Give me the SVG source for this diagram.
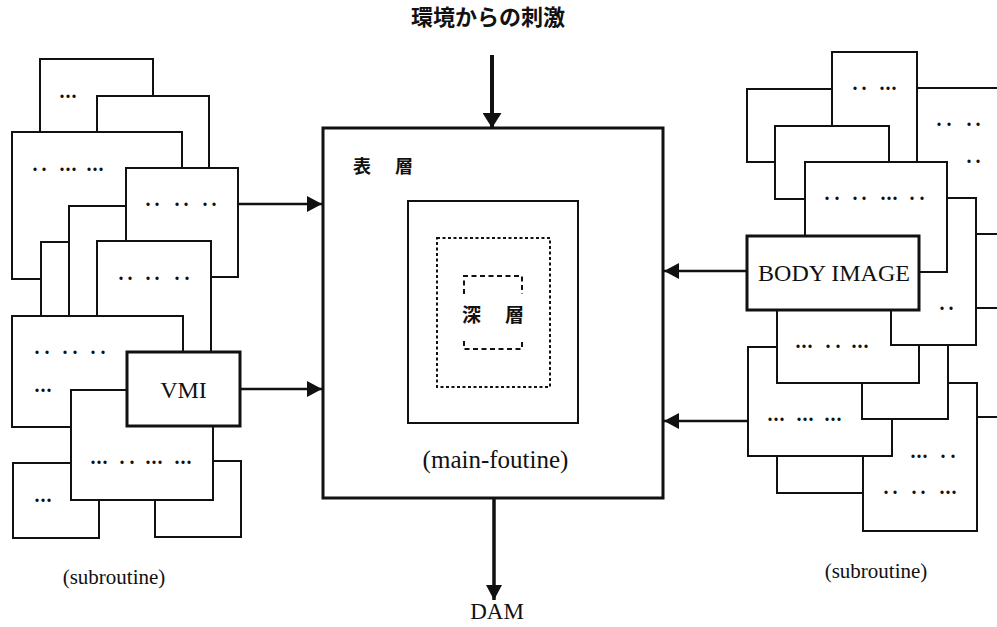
<svg xmlns="http://www.w3.org/2000/svg" width="997" height="627" viewBox="0 0 997 627">
<style>
.b{fill:#fff;stroke:#111;stroke-width:2}
.bt{fill:#fff;stroke:#111;stroke-width:3}
.d{font-family:"Liberation Serif",serif;font-weight:bold;font-size:20px;fill:#111}
.lbl{font-family:"Liberation Serif",serif;fill:#111}
.jp{font-family:"Noto Sans CJK JP","Noto Sans CJK SC",sans-serif;font-weight:bold;fill:#111}
.cn{fill:none;stroke:#111}
</style>
<defs>
<marker id="ah" viewBox="0 0 15 16" refX="15" refY="8" markerWidth="15" markerHeight="16" markerUnits="userSpaceOnUse" orient="auto"><path d="M0,0 L15,8 L0,16 Z" fill="#111"/></marker>
<marker id="ahb" viewBox="0 0 15 19" refX="15" refY="9.5" markerWidth="15" markerHeight="19" markerUnits="userSpaceOnUse" orient="auto"><path d="M0,0 L15,9.5 L0,19 Z" fill="#111"/></marker>
</defs>
<rect width="997" height="627" fill="#fff"/>

<text class="jp" x="411" y="25" font-size="22">環境からの刺激</text>

<g id="left-stack">
<g id="L-A"><rect class="b" x="40" y="59" width="113" height="141"/><text class="d" x="59.5 65.5 71.5" y="98.4">...</text></g>
<g id="L-B"><rect class="b" x="97" y="96" width="112" height="124"/></g>
<g id="L-C"><rect class="b" x="12" y="132" width="170" height="147"/><text class="d" x="32.5 41.5 50 59.5 65.5 71.5 80 86.5 92.5 98.5" y="171.4">.. ... ...</text></g>
<g id="L-F"><rect class="b" x="41" y="242" width="100" height="90"/></g>
<g id="L-E"><rect class="b" x="69" y="206" width="100" height="124"/></g>
<g id="L-D"><rect class="b" x="126" y="168" width="112" height="109"/><text class="d" x="145.5 154.5 165 174.5 183.5 194 202.5 211.5" y="206.4">.. .. ..</text></g>
<g id="L-G"><rect class="b" x="97" y="241" width="114" height="159"/><text class="d" x="118.5 127.5 138 145.5 154.5 166 174.5 184.5" y="280.4">.. .. ..</text></g>
<g id="L-H"><rect class="b" x="12" y="316" width="171" height="111"/><text class="d" x="34.5 44.5 55 62.5 72.5 83 90.5 100.5" y="354.4">.. .. ..</text><text class="d" x="34.5 40.5 46.5" y="392.4">...</text></g>
<g id="L-J"><rect class="b" x="13" y="463" width="86" height="75"/><text class="d" x="34.5 40.5 46.5" y="502.4">...</text></g>
<g id="L-K"><rect class="b" x="155" y="461" width="86" height="76"/></g>
<g id="L-I"><rect class="b" x="71" y="390" width="142" height="110"/><text class="d" x="90.5 96.5 102.5 112 119.5 129.5 138 145.5 151.5 157.5 166 174.5 180.5 186.5" y="464.4">... .. ... ...</text></g>
<g id="VMI"><rect class="bt" x="127" y="352" width="113" height="74"/><text class="lbl" x="183.5" y="398" font-size="24" text-anchor="middle">VMI</text></g>
<text class="lbl" x="114" y="584" font-size="21" text-anchor="middle">(subroutine)</text>
</g>

<g id="right-stack">
<g id="R-2"><rect class="b" x="900" y="88" width="200" height="146"/><text class="d" x="936.5 946.5 957 966.5 975.5" y="126.4">.. ..</text><text class="d" x="966.5 975.5" y="163.4">..</text></g>
<g id="R-3"><rect class="b" x="747" y="89" width="103" height="73"/></g>
<g id="R-1"><rect class="b" x="832" y="52" width="85" height="128"/><text class="d" x="852.5 861.5 870 879.5 885.5 891.5" y="90.4">.. ...</text></g>
<g id="R-4"><rect class="b" x="775" y="126" width="114" height="73"/></g>
<g id="R-7"><rect class="b" x="930" y="308" width="170" height="109"/></g>
<g id="R-12"><rect class="b" x="777" y="430" width="123" height="63"/></g>
<g id="R-11"><rect class="b" x="863" y="383" width="114" height="148"/><text class="d" x="910.5 916.5 922.5 932 940.5 950.5" y="458.4">... ..</text><text class="d" x="883.5 892.5 903 911.5 920.5 930 939.5 945.5 951.5" y="494.4">.. .. ...</text></g>
<g id="R-9"><rect class="b" x="748" y="347" width="144" height="109"/><text class="d" x="767.5 773.5 779.5 789 796.5 802.5 808.5 817 824.5 830.5 836.5" y="421.4">... ... ...</text></g>
<g id="R-10"><rect class="b" x="862" y="330" width="86" height="89"/></g>
<g id="R-8"><rect class="b" x="777" y="290" width="142" height="93"/><text class="d" x="795.5 801.5 807.5 817 825.5 835.5 845 851.5 857.5 863.5" y="348.4">... .. ...</text></g>
<g id="R-6"><rect class="b" x="891" y="198" width="85" height="147"/><text class="d" x="939.5 948.5" y="310.4">..</text></g>
<g id="R-5"><rect class="b" x="805" y="162" width="142" height="110"/><text class="d" x="824.5 834.5 845 852.5 861.5 871 880.5 886.5 892.5 901 909.5 919.5" y="200.4">.. .. ... ..</text></g>
<g id="BODY-IMAGE"><rect class="bt" x="747" y="236" width="172" height="74"/><text class="lbl" x="834" y="281" font-size="24" text-anchor="middle">BODY IMAGE</text></g>
<text class="lbl" x="876" y="578" font-size="21" text-anchor="middle">(subroutine)</text>
</g>

<g id="main-routine">
<rect class="bt" x="323" y="128" width="340" height="370"/>
<text class="jp" x="353 371 395" y="173" font-size="18">表 層</text>
<rect class="b" x="408" y="201" width="170" height="222"/>
<rect fill="none" stroke="#111" stroke-width="2" stroke-dasharray="3 2.5" x="437" y="238" width="113" height="149"/>
<path fill="none" stroke="#111" stroke-width="2" stroke-dasharray="5 3.5" d="M464,294 V276 H522 V294 M464,341 V349 H522 V341"/>
<text class="jp" x="462 484 505" y="322" font-size="19">深 層</text>
<text class="lbl" x="495.5" y="468" font-size="25" text-anchor="middle">(main-foutine)</text>
</g>

<g id="connectors">
<path class="cn" stroke-width="4" d="M492,55 V128" marker-end="url(#ahb)"/>
<path class="cn" stroke-width="3.5" d="M494,499 V600" marker-end="url(#ah)"/>
<path class="cn" stroke-width="2.5" d="M239,204 H322" marker-end="url(#ah)"/>
<path class="cn" stroke-width="2.5" d="M240,389 H322" marker-end="url(#ah)"/>
<path class="cn" stroke-width="2.5" d="M747,271 H664" marker-end="url(#ah)"/>
<path class="cn" stroke-width="2.5" d="M748,421 H664" marker-end="url(#ah)"/>
</g>
<text class="lbl" x="497" y="619" font-size="23" text-anchor="middle">DAM</text>
</svg>
